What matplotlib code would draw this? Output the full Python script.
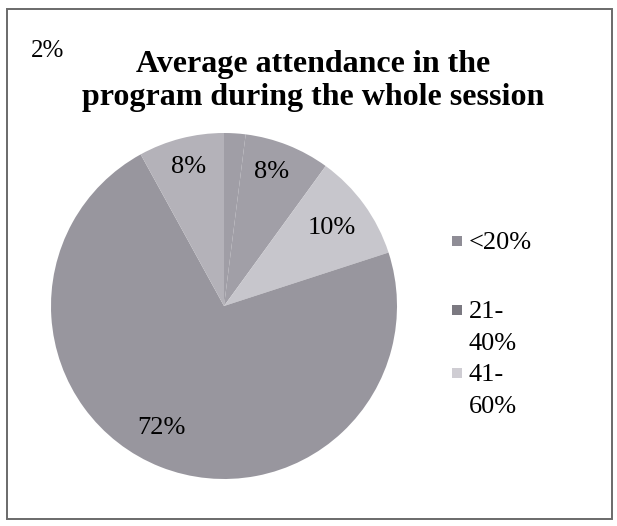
import numpy as np
import matplotlib
matplotlib.use("Agg")
import matplotlib.pyplot as plt
from matplotlib.patches import Rectangle

# slice values, clockwise from 12 o'clock
values = [2, 8, 10, 72, 8]
slice_colors = ['#a09ea6', '#a19fa7', '#c7c6cc', '#98969e', '#b4b2b9']
# radial position of each value label (fraction of radius) and angular nudge (deg)
label_r = [0.0, 0.82, 0.77, 0.79, 0.83]
label_nudge = [0, 2, 0, -5.5, 0]

legend_labels = ['<20%', '21-\n40%', '41-\n60%']
legend_colors = ['#8f8d96', '#7b7981', '#cfcdd3']

title = 'Average attendance in the\nprogram during the whole session'

W, H = 617, 526
fig = plt.figure(figsize=(W / 100, H / 100), dpi=100)
fig.patch.set_facecolor('white')

serif = ['Liberation Serif', 'DejaVu Serif']

# chart border
fig.add_artist(Rectangle((7 / W, 1 - 519 / H), 605 / W, 510 / H,
                         transform=fig.transFigure, fill=False,
                         edgecolor='#6a6a6a', lw=1.4))

fig.text(313 / W, 1 - 81 / H, title, ha='center', va='center',
         family=serif, fontweight='bold', fontsize=23, linespacing=1.14)

# pie
cx, cy, r = 224, 306, 173
ax = fig.add_axes([(cx - r) / W, (H - cy - r) / H, 2 * r / W, 2 * r / H])
wedges, _ = ax.pie(values, colors=slice_colors, startangle=90,
                   counterclock=False, radius=1,
                   wedgeprops=dict(linewidth=0))
ax.set_xlim(-1, 1)
ax.set_ylim(-1, 1)
ax.axis('off')

for w, v, lr, dn in zip(wedges, values, label_r, label_nudge):
    if lr == 0:
        continue
    th = np.deg2rad((w.theta1 + w.theta2) / 2 + dn)
    ax.text(lr * np.cos(th), lr * np.sin(th), f'{v}%', ha='center',
            va='center', family=serif, fontsize=19)

# the small slice's label sits up by the title
fig.text(48 / W, 1 - 51 / H, f'{values[0]}%', ha='center', va='center',
         family=serif, fontsize=18)

# legend, one text line at a time
legend_y = [243, 312, 375]
line_gap = 32
for lab, col, y in zip(legend_labels, legend_colors, legend_y):
    fig.add_artist(Rectangle((452 / W, 1 - (y + 3) / H), 10 / W, 10 / H,
                             transform=fig.transFigure, facecolor=col,
                             edgecolor='none'))
    for i, part in enumerate(lab.split('\n')):
        fig.text(469 / W, 1 - (y + i * line_gap) / H, part, ha='left',
                 va='center', family=serif, fontsize=19)

fig.savefig('out.png', dpi=100)
